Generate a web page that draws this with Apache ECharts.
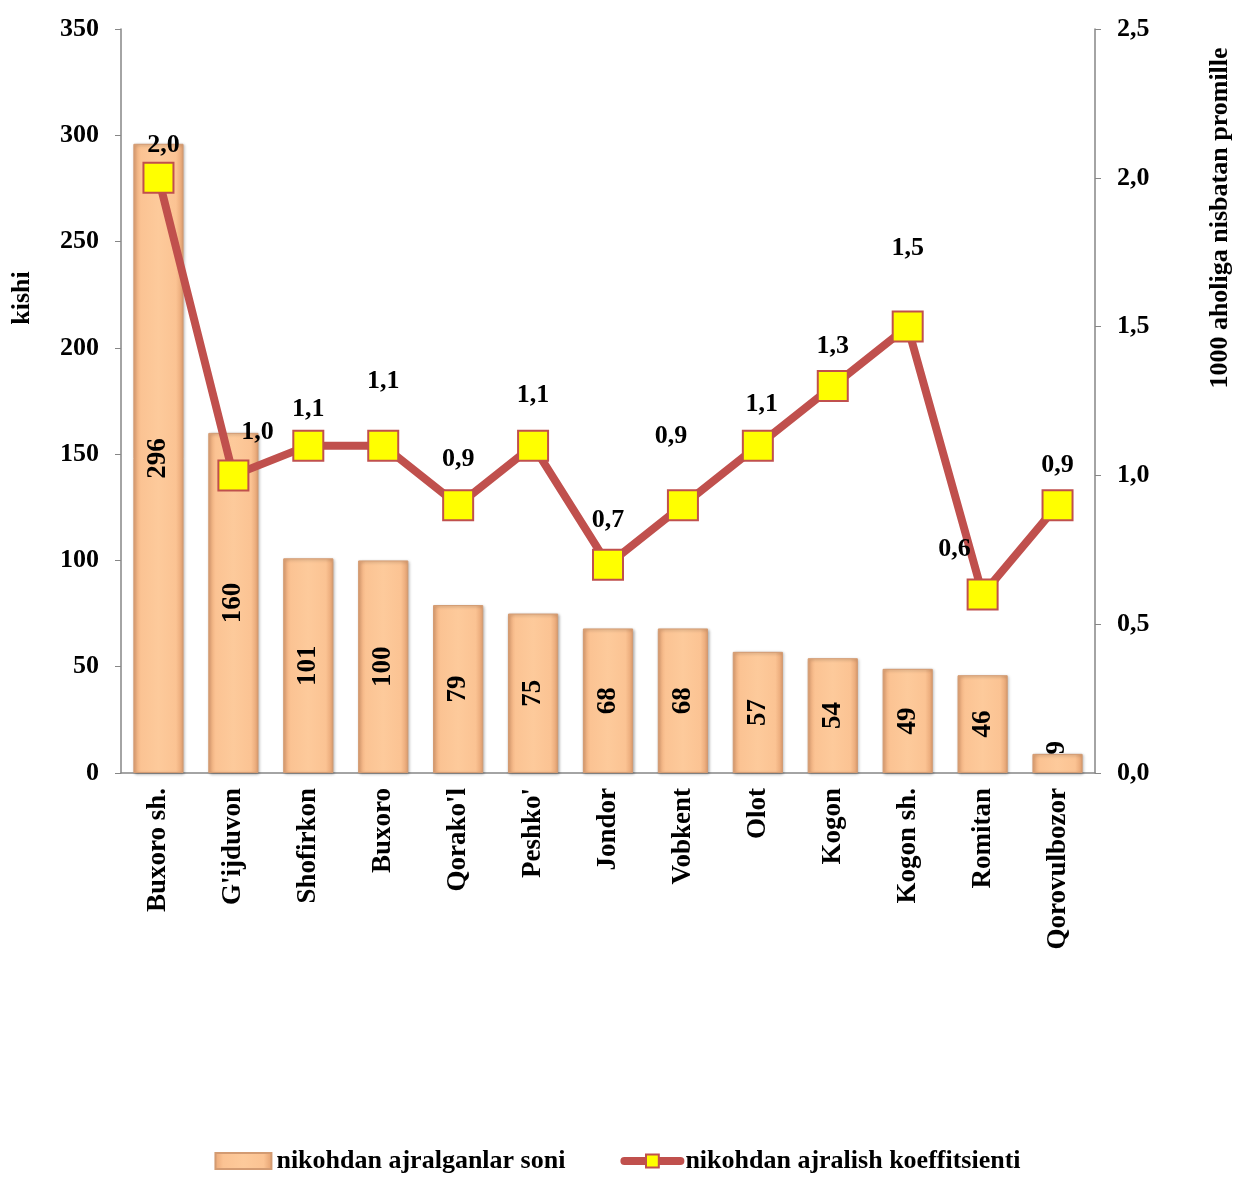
<!DOCTYPE html>
<html>
<head>
<meta charset="utf-8">
<script src="https://cdn.jsdelivr.net/npm/echarts@6/dist/echarts.min.js"></script>
<style>
  html, body { margin: 0; padding: 0; background: #fff; }
  #chart { width: 1235px; height: 1179px; }
</style>
</head>
<body>
<div id="chart"></div>
<script>
const districts = ['Buxoro sh.', "G'ijduvon", 'Shofirkon', 'Buxoro', "Qorako'l", "Peshko'", 'Jondor', 'Vobkent', 'Olot', 'Kogon', 'Kogon sh.', 'Romitan', 'Qorovulbozor']
const divorces = [296, 160, 101, 100, 79, 75, 68, 68, 57, 54, 49, 46, 9]
const rate = [2.0, 1.0, 1.1, 1.1, 0.9, 1.1, 0.7, 0.9, 1.1, 1.3, 1.5, 0.6, 0.9]
const countTicks = [0, 50, 100, 150, 200, 250, 300, 350]
const rateTicks = [0, 0.5, 1.0, 1.5, 2.0, 2.5]

const barName = 'nikohdan ajralganlar soni'
const lineName = 'nikohdan ajralish koeffitsienti'

// label offsets for the line points, as in the picture
const rateLabelOffset = [
  [5, 8], [24, -2], [0, 5], [0, -23], [0, -5], [0, -9], [0, -3],
  [-12, -28], [4, 0], [0, 1], [0, -37], [-28, -4], [0, 1]
]

const font = 'Liberation Serif, Times New Roman, serif'
const fs = 26
const chart = echarts.init(document.getElementById('chart'))

const barFill = new echarts.graphic.LinearGradient(0, 0, 1, 0, [
  { offset: 0, color: '#eaa777' },
  { offset: 0.15, color: '#fbc393' },
  { offset: 0.5, color: '#fdca9b' },
  { offset: 0.85, color: '#fbc393' },
  { offset: 1, color: '#e3a070' }
])

chart.setOption({
  animation: false,
  textStyle: { fontFamily: font },
  grid: { left: 121, right: 140, top: 29, bottom: 406 },
  legend: {
    bottom: 0,
    left: 'center',
    itemGap: 55,
    itemWidth: 56,
    itemHeight: 16,
    textStyle: { fontFamily: font, fontSize: fs, fontWeight: 'bold', color: '#000' },
    data: [
      { name: barName, icon: 'rect' },
      { name: lineName, lineStyle: { width: 8, cap: 'round' } }
    ]
  },
  graphic: [
    {
      type: 'text', rotation: Math.PI / 2, x: 22, y: 298,
      style: { text: 'kishi', font: 'bold ' + fs + 'px ' + font, fill: '#000', align: 'center', verticalAlign: 'middle' }
    },
    {
      type: 'text', rotation: Math.PI / 2, x: 1220, y: 218,
      style: { text: '1000 aholiga nisbatan promille', font: 'bold ' + fs + 'px ' + font, fill: '#000', align: 'center', verticalAlign: 'middle' }
    }
  ],
  xAxis: {
    type: 'category',
    data: districts,
    axisLine: { lineStyle: { color: '#868686', width: 1.5 } },
    axisTick: { lineStyle: { color: '#868686' }, length: 6 },
    axisLabel: {
      rotate: 90, margin: 15, interval: 0,
      fontFamily: font, fontSize: 27, fontWeight: 'bold', color: '#000'
    }
  },
  yAxis: [
    {
      type: 'value',
      min: countTicks[0], max: countTicks[countTicks.length - 1], interval: 50,
      splitLine: { show: false },
      axisLine: { show: true, lineStyle: { color: '#868686', width: 1.5 } },
      axisTick: { show: true, lineStyle: { color: '#868686' }, length: 6 },
      axisLabel: { margin: 22, fontFamily: font, fontSize: fs, fontWeight: 'bold', color: '#000' }
    },
    {
      type: 'value',
      min: rateTicks[0], max: rateTicks[rateTicks.length - 1], interval: 0.5,
      splitLine: { show: false },
      axisLine: { show: true, lineStyle: { color: '#868686', width: 1.5 } },
      axisTick: { show: true, lineStyle: { color: '#868686' }, length: 6 },
      axisLabel: {
        margin: 22, fontFamily: font, fontSize: fs, fontWeight: 'bold', color: '#000',
        formatter: v => v.toFixed(1).replace('.', ',')
      }
    }
  ],
  series: [
    {
      name: barName,
      type: 'bar',
      barWidth: '67%',
      data: divorces.map(v => ({
        value: v,
        label: v < 20 ? { position: [25, -6], align: 'center', verticalAlign: 'middle' } : {}
      })),
      itemStyle: {
        color: barFill,
        borderColor: '#d39b72',
        borderWidth: 1,
        shadowColor: 'rgba(0,0,0,0.3)',
        shadowBlur: 3,
        shadowOffsetX: 1,
        shadowOffsetY: 1
      },
      label: {
        show: true,
        position: 'inside',
        rotate: 90,
        fontFamily: font, fontSize: 27, fontWeight: 'bold', color: '#000'
      }
    },
    {
      name: lineName,
      type: 'line',
      yAxisIndex: 1,
      data: rate.map((v, i) => ({
        value: v,
        label: { offset: rateLabelOffset[i] }
      })),
      symbol: 'rect',
      symbolSize: 30,
      lineStyle: { color: '#c0504d', width: 8 },
      itemStyle: { color: '#ffff00', borderColor: '#c0504d', borderWidth: 2 },
      label: {
        show: true,
        position: 'top',
        distance: 12,
        fontFamily: font, fontSize: fs, fontWeight: 'bold', color: '#000',
        formatter: p => p.value.toFixed(1).replace('.', ',')
      },
      z: 5
    }
  ]
})
</script>
</body>
</html>
